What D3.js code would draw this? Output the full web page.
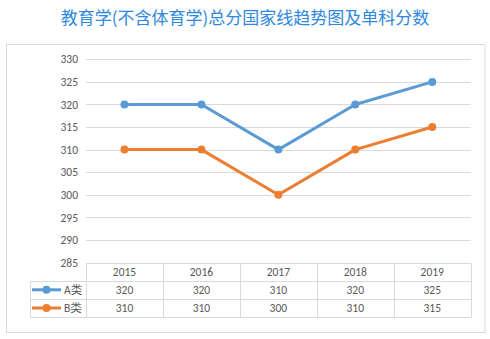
<!DOCTYPE html>
<html>
<head>
<meta charset="utf-8">
<script src="https://cdn.jsdelivr.net/npm/d3@7/dist/d3.min.js"></script>
<style>
  html, body { margin: 0; padding: 0; background: #fff; }
  svg { display: block; }
</style>
</head>
<body>
<svg id="chart" width="490" height="339"></svg>
<script>
// Chart data
const years = ["2015", "2016", "2017", "2018", "2019"];
const seriesNames = ["A类", "B类"];
const seriesA = [320, 320, 310, 320, 325];
const seriesB = [310, 310, 300, 310, 315];
const yTicks = [285, 290, 295, 300, 305, 310, 315, 320, 325, 330];
const titleText = "教育学(不含体育学)总分国家线趋势图及单科分数";

const colors = ["#5B9BD5", "#ED7D31"];
const gridColor = "#D9D9D9";
const textColor = "#595959";
const fontFamily = "Calibri, Carlito, 'Liberation Sans', 'Noto Sans CJK SC', sans-serif";

const svg = d3.select("#chart");

// Title
svg.append("text")
  .attr("x", 245).attr("y", 24)
  .attr("text-anchor", "middle")
  .attr("font-family", "'Noto Sans CJK SC', sans-serif")
  .attr("font-size", 17)
  .attr("fill", "#2F88E0")
  .text(titleText);

// Chart area frame
svg.append("rect")
  .attr("x", 6.5).attr("y", 44.5)
  .attr("width", 478.5).attr("height", 288)
  .attr("fill", "#fff")
  .attr("stroke", gridColor).attr("stroke-width", 1);

const plotLeft = 86, plotRight = 470.7;
const x = d3.scaleBand().domain(years).range([plotLeft, plotRight]);
const y = d3.scaleLinear().domain([285, 330]).range([262.5, 59.3]);

// Horizontal gridlines (the bottom one is the table's top edge)
svg.append("g")
  .selectAll("line")
  .data(yTicks.filter(t => t !== 285))
  .join("line")
  .attr("x1", plotLeft).attr("x2", plotRight)
  .attr("y1", d => Math.round(y(d)) + 0.5).attr("y2", d => Math.round(y(d)) + 0.5)
  .attr("stroke", gridColor).attr("stroke-width", 1);

// Y axis tick labels
const yAxis = d3.axisLeft(y).tickValues(yTicks).tickSize(0).tickPadding(0);
const yAxisG = svg.append("g")
  .attr("transform", `translate(${plotLeft - 8},0)`)
  .call(yAxis);
yAxisG.select(".domain").remove();
yAxisG.selectAll("text")
  .attr("font-family", fontFamily)
  .attr("font-size", 11.5)
  .attr("fill", textColor);

// Series lines with markers
const series = [seriesA, seriesB];
const line = d3.line()
  .x((d, i) => x(years[i]) + x.bandwidth() / 2)
  .y(d => y(d));

series.forEach((vals, si) => {
  svg.append("path")
    .datum(vals)
    .attr("d", line)
    .attr("fill", "none")
    .attr("stroke", colors[si])
    .attr("stroke-width", 3)
    .attr("stroke-linejoin", "round");
  svg.append("g")
    .selectAll("circle")
    .data(vals)
    .join("circle")
    .attr("cx", (d, i) => x(years[i]) + x.bandwidth() / 2)
    .attr("cy", d => y(d))
    .attr("r", 4)
    .attr("fill", colors[si]);
});

// Data table under the plot
const rowH = 18.2;
const tableTop = y(285);
const legendLeft = 30;
const rowTops = [tableTop, tableTop + rowH, tableTop + 2 * rowH, tableTop + 3 * rowH];
const tbl = svg.append("g").attr("stroke", gridColor).attr("stroke-width", 1);

// header row top edge (data columns only)
tbl.append("line")
  .attr("x1", plotLeft).attr("x2", plotRight)
  .attr("y1", Math.round(rowTops[0]) + 0.5).attr("y2", Math.round(rowTops[0]) + 0.5);
// remaining horizontal edges span the legend column too
rowTops.slice(1).forEach(ry => {
  tbl.append("line")
    .attr("x1", legendLeft).attr("x2", plotRight)
    .attr("y1", Math.round(ry) + 0.5).attr("y2", Math.round(ry) + 0.5);
});
// legend column left edge
tbl.append("line")
  .attr("x1", legendLeft + 0.5).attr("x2", legendLeft + 0.5)
  .attr("y1", Math.round(rowTops[1]) + 0.5).attr("y2", Math.round(rowTops[3]) + 0.5);
// column separators
years.forEach(yr => {
  const cx = Math.round(x(yr)) + 0.5;
  tbl.append("line")
    .attr("x1", cx).attr("x2", cx)
    .attr("y1", Math.round(rowTops[0]) + 0.5).attr("y2", Math.round(rowTops[3]) + 0.5);
});
tbl.append("line")
  .attr("x1", Math.round(plotRight) + 0.5).attr("x2", Math.round(plotRight) + 0.5)
  .attr("y1", Math.round(rowTops[0]) + 0.5).attr("y2", Math.round(rowTops[3]) + 0.5);

// header year labels
svg.append("g")
  .selectAll("text")
  .data(years)
  .join("text")
  .attr("x", d => x(d) + x.bandwidth() / 2)
  .attr("y", rowTops[0] + rowH / 2 + 4)
  .attr("text-anchor", "middle")
  .attr("font-family", fontFamily)
  .attr("font-size", 11.5)
  .attr("fill", textColor)
  .text(d => d);

// value rows with legend keys
series.forEach((vals, si) => {
  const cy = rowTops[si + 1] + rowH / 2;
  svg.append("line")
    .attr("x1", 32).attr("x2", 61)
    .attr("y1", cy).attr("y2", cy)
    .attr("stroke", colors[si]).attr("stroke-width", 3);
  svg.append("circle")
    .attr("cx", 46.5).attr("cy", cy).attr("r", 4)
    .attr("fill", colors[si]);
  svg.append("text")
    .attr("x", 64).attr("y", cy + 4)
    .attr("font-family", fontFamily)
    .attr("font-size", 11.5)
    .attr("fill", textColor)
    .text(seriesNames[si]);
  svg.append("g")
    .selectAll("text")
    .data(vals)
    .join("text")
    .attr("x", (d, i) => x(years[i]) + x.bandwidth() / 2)
    .attr("y", cy + 4)
    .attr("text-anchor", "middle")
    .attr("font-family", fontFamily)
    .attr("font-size", 11.5)
    .attr("fill", textColor)
    .text(d => d);
});
</script>
</body>
</html>
